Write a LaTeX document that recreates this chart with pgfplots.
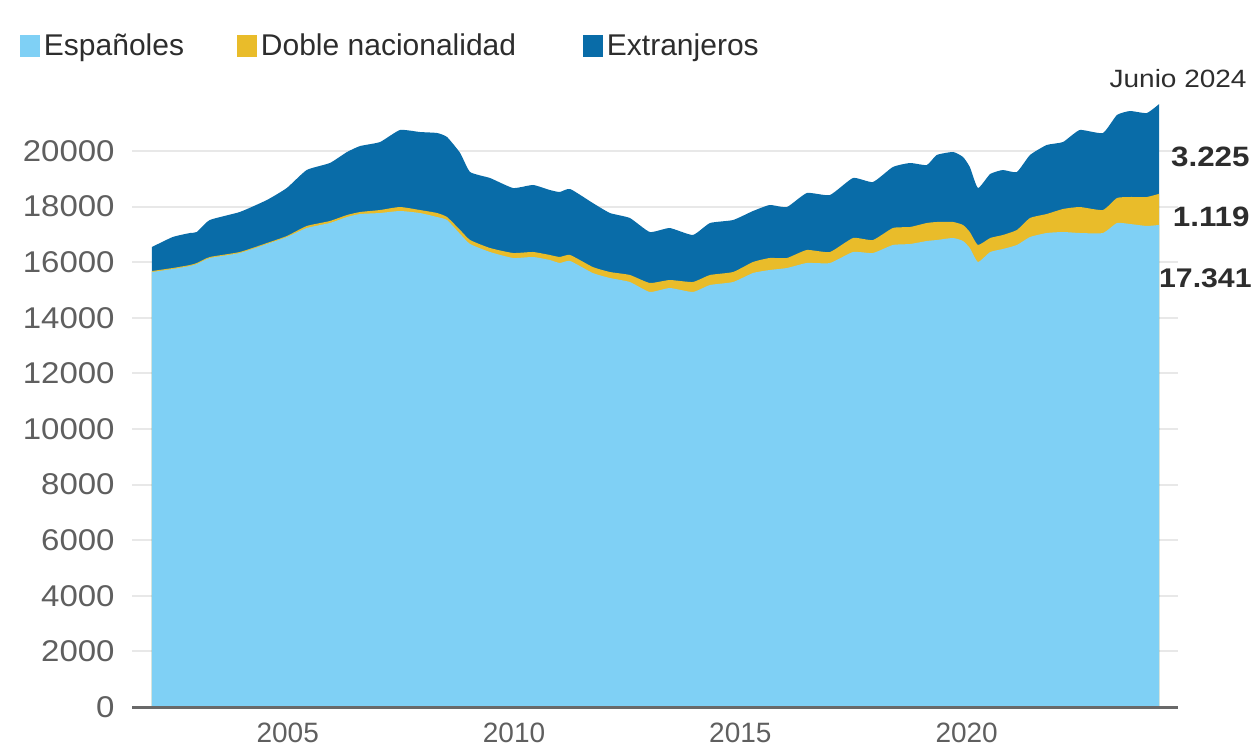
\documentclass[border=0pt]{standalone}
\usepackage{fontspec}
\setmainfont{Liberation Sans}
\newfontfamily\widefont{Liberation Sans}[FakeStretch=1.12]
\newfontfamily\yfont{Liberation Sans}[FakeStretch=1.1]
\usepackage{pgfplots}
\pgfplotsset{compat=1.18}
\usepackage{pgfplotstable}
\definecolor{cE}{RGB}{127,208,245}
\definecolor{cD}{RGB}{233,188,42}
\definecolor{cX}{RGB}{9,108,168}
\definecolor{gridgray}{RGB}{232,232,232}
\definecolor{tickgray}{RGB}{95,95,95}
\definecolor{axisgray}{RGB}{105,105,105}
\definecolor{labdark}{RGB}{45,45,45}

\pgfplotstableread{
x E D X
2002.00 15647 36 863
2002.46 15755 36 1115
2002.84 15863 36 1151
2002.99 15935 36 1115
2003.28 16151 36 1331
2003.94 16330 36 1439
2004.54 16654 36 1547
2004.98 16906 36 1727
2005.42 17230 72 2014
2005.93 17409 72 2086
2006.31 17625 72 2266
2006.60 17733 72 2374
2007.04 17769 108 2446
2007.48 17841 144 2770
2007.92 17769 108 2806
2008.30 17625 144 2878
2008.52 17517 108 2878
2008.81 17014 144 2770
2009.03 16654 144 2446
2009.47 16366 144 2518
2009.98 16151 180 2338
2010.42 16187 180 2410
2010.79 16079 180 2338
2011.01 15971 216 2338
2011.24 16043 216 2374
2011.74 15611 216 2302
2012.12 15431 216 2122
2012.56 15287 252 2050
2013.00 14928 324 1834
2013.44 15071 288 1870
2013.95 14928 360 1691
2014.33 15179 360 1870
2014.84 15287 360 1870
2015.28 15611 396 1834
2015.65 15719 432 1906
2016.03 15791 360 1834
2016.47 15971 468 2050
2016.98 15971 396 2050
2017.49 16366 504 2158
2017.93 16330 468 2086
2018.37 16618 612 2194
2018.75 16654 612 2302
2019.12 16762 648 2086
2019.34 16798 648 2410
2019.70 16870 576 2518
2019.92 16762 576 2446
2020.07 16510 576 2338
2020.25 16007 612 2050
2020.52 16366 504 2302
2020.80 16474 504 2338
2021.11 16618 540 2086
2021.40 16906 684 2266
2021.77 17050 684 2482
2022.13 17086 828 2410
2022.50 17050 935 2770
2023.01 17050 827 2770
2023.32 17409 899 2986
2023.61 17374 971 3093
2023.98 17302 1043 3021
2024.25 17341 1119 3225
}\datatable

\begin{document}
\begin{tikzpicture}
\useasboundingbox (0,0) rectangle (628pt,-374pt);
\begin{axis}[
  at={(66pt,-353.5pt)}, anchor=south west,
  scale only axis, width=523pt, height=305.8pt,
  xmin=2001.56, xmax=2024.67, ymin=0, ymax=22000,
  clip=false,
  axis lines*=left,
  y axis line style={draw=none},
  x axis line style={draw=axisgray, line width=1.5pt},
  major tick length=0pt,
  xtick={2005,2010,2015,2020},
  ytick={0,2000,...,20000},
  ymajorgrids,
  grid style={draw=gridgray, line width=1pt},
  scaled y ticks=false, scaled x ticks=false,
  /pgf/number format/1000 sep={},
  /pgf/number format/assume math mode=true,
  xticklabel style={font=\fontsize{14}{16}\selectfont, text=tickgray, anchor=north, inner sep=0pt, yshift=-8pt},
  yticklabel style={font=\yfont\fontsize{15}{17}\selectfont, text=tickgray, anchor=east, inner sep=0pt, xshift=-8.5pt},
  legend style={at={(axis description cs:-0.1071,1.0808)}, anchor=west, draw=none, fill=none,
    inner sep=0pt, outer sep=0pt, font=\fontsize{15}{18}\selectfont, text=labdark,
    nodes={inner sep=0pt}},
  legend columns=3,
  legend image code/.code={\fill[#1] (0pt,-5.5pt) rectangle (10pt,5.5pt); \path (12pt,0pt);},
  reverse legend,
]
\addplot[fill=cX, draw=none, smooth, tension=0.3] table[x=x, y expr=\thisrow{E}+\thisrow{D}+\thisrow{X}] {\datatable} \closedcycle;
\addplot[fill=cD, draw=none, smooth, tension=0.3] table[x=x, y expr=\thisrow{E}+\thisrow{D}] {\datatable} \closedcycle;
\addplot[fill=cE, draw=none, smooth, tension=0.3] table[x=x, y=E] {\datatable} \closedcycle;
\addplot[forget plot, draw=axisgray, line width=1.5pt] coordinates {(2001.56,0) (2024.67,0)};
\legend{Extranjeros, \makebox[161pt][l]{Doble nacionalidad}, \makebox[96.5pt][l]{Españoles}}
\end{axis}
\node[anchor=east, inner sep=0pt, text=labdark, font=\widefont\fontsize{12.5}{14}\selectfont] at (623.5pt,-39.5pt) {Junio 2024};
\node[anchor=east, inner sep=0pt, text=labdark, font=\widefont\bfseries\fontsize{14}{16}\selectfont] at (625pt,-78.5pt) {3.225};
\node[anchor=east, inner sep=0pt, text=labdark, font=\widefont\bfseries\fontsize{14}{16}\selectfont] at (625pt,-108.5pt) {1.119};
\node[anchor=east, inner sep=0pt, text=labdark, font=\widefont\bfseries\fontsize{13.5}{16}\selectfont] at (626pt,-139pt) {17.341};
\end{tikzpicture}
\end{document}
